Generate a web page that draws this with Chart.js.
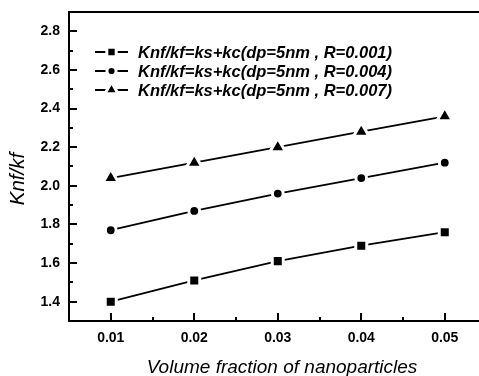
<!DOCTYPE html>
<html>
<head>
<meta charset="utf-8">
<script src="https://cdn.jsdelivr.net/npm/chart.js@4.4.0/dist/chart.umd.min.js"></script>
<style>
    html, body { margin: 0; padding: 0; background: #fff; overflow: hidden; }
    #kChart { display: block; }
</style>
</head>
<body>
<canvas id="kChart" width="479" height="376"></canvas>
<script>
const fractions = [0.01, 0.02, 0.03, 0.04, 0.05];
const seriesR001 = [1.40, 1.51, 1.61, 1.69, 1.76];
const seriesR004 = [1.77, 1.87, 1.96, 2.04, 2.12];
const seriesR007 = [2.04, 2.12, 2.20, 2.28, 2.36];
const seriesLabels = [
    'Knf/kf=ks+kc(dp=5nm , R=0.001)',
    'Knf/kf=ks+kc(dp=5nm , R=0.004)',
    'Knf/kf=ks+kc(dp=5nm , R=0.007)'
];
const xTicks = [0.01, 0.02, 0.03, 0.04, 0.05];
const yTicks = [1.4, 1.6, 1.8, 2.0, 2.2, 2.4, 2.6, 2.8];
const xTitle = 'Volume fraction of nanoparticles';
const yTitle = 'Knf/kf';

const markers = [
    { style: 'rect', radius: 7.8 },
    { style: 'circle', radius: 5.4 },
    { style: 'triangle', radius: 9 }
];

function toPoints(values) {
    return values.map((v, i) => ({ x: fractions[i], y: v }));
}

function makeDataset(label, values, marker) {
    return {
        label: label,
        data: toPoints(values),
        borderColor: '#000',
        borderWidth: 1.8,
        pointStyle: marker.style,
        pointRadius: marker.radius,
        pointBackgroundColor: '#000',
        pointBorderColor: '#fff',
        pointBorderWidth: 3,
        tension: 0
    };
}

// fixed axis boxes, no extra room reserved for edge labels
function fixBox(scale, size) {
    if (scale.isHorizontal()) {
        scale.height = size;
    } else {
        scale.width = size;
    }
    scale.paddingTop = 0;
    scale.paddingBottom = 0;
    scale.paddingLeft = 0;
    scale.paddingRight = 0;
}

// frame (the right side runs off the picture), inward ticks, titles, legend
const decorations = {
    id: 'decorations',
    afterDraw(chart) {
        const ctx = chart.ctx;
        const area = chart.chartArea;
        const xs = chart.scales.x;
        const ys = chart.scales.y;

        ctx.save();
        ctx.strokeStyle = '#000';
        ctx.lineWidth = 2;
        ctx.beginPath();
        ctx.moveTo(chart.width, area.top);
        ctx.lineTo(area.left, area.top);
        ctx.lineTo(area.left, area.bottom);
        ctx.lineTo(chart.width, area.bottom);
        ctx.stroke();

        ctx.beginPath();
        xTicks.forEach(v => {
            const px = Math.round(xs.getPixelForValue(v));
            ctx.moveTo(px, area.bottom);
            ctx.lineTo(px, area.bottom - 8);
            const mx = Math.round(xs.getPixelForValue(v + 0.005));
            ctx.moveTo(mx, area.bottom);
            ctx.lineTo(mx, area.bottom - 4);
        });
        yTicks.forEach(v => {
            const py = Math.round(ys.getPixelForValue(v));
            ctx.moveTo(area.left, py);
            ctx.lineTo(area.left + 8, py);
            const my = Math.round(ys.getPixelForValue(v + 0.1));
            ctx.moveTo(area.left, my);
            ctx.lineTo(area.left + 4, my);
        });
        ctx.stroke();

        // axis titles
        ctx.fillStyle = '#000';
        ctx.textAlign = 'center';
        ctx.textBaseline = 'middle';
        ctx.font = 'italic 19px "Liberation Sans", Arial, sans-serif';
        ctx.fillText(xTitle, 282, 368);
        ctx.save();
        ctx.translate(18, 179);
        ctx.rotate(-Math.PI / 2);
        ctx.font = 'italic 20.5px "Liberation Sans", Arial, sans-serif';
        ctx.fillText(yTitle, 0, 0);
        ctx.restore();

        // legend
        const rows = [52, 71, 90];
        ctx.textAlign = 'left';
        ctx.font = 'bold italic 16.5px "Liberation Sans", Arial, sans-serif';
        chart.data.datasets.forEach((ds, i) => {
            const y = rows[i];
            ctx.strokeStyle = '#000';
            ctx.lineWidth = 2;
            ctx.beginPath();
            ctx.moveTo(95, y);
            ctx.lineTo(128, y);
            ctx.stroke();
            ctx.fillStyle = '#000';
            ctx.strokeStyle = '#fff';
            ctx.lineWidth = 3;
            Chart.helpers.drawPoint(ctx, {
                pointStyle: ds.pointStyle,
                radius: ds.pointRadius * 0.85,
                rotation: 0,
                borderWidth: 3
            }, 111.5, y);
            ctx.fillStyle = '#000';
            ctx.fillText(ds.label, 138, y + 1);
        });
        ctx.restore();
    }
};

function createChart() {
    const ctx = document.getElementById('kChart').getContext('2d');
    return new Chart(ctx, {
        type: 'line',
        data: {
            datasets: [
                makeDataset(seriesLabels[0], seriesR001, markers[0]),
                makeDataset(seriesLabels[1], seriesR004, markers[1]),
                makeDataset(seriesLabels[2], seriesR007, markers[2])
            ]
        },
        options: {
            responsive: false,
            animation: false,
            layout: { autoPadding: false, padding: { top: 12, right: 0, left: 0, bottom: 0 } },
            plugins: {
                legend: { display: false },
                tooltip: { enabled: false }
            },
            scales: {
                x: {
                    type: 'linear',
                    min: 0.005,
                    max: 0.0541,
                    afterFit: scale => fixBox(scale, 55),
                    afterBuildTicks: scale => { scale.ticks = xTicks.map(v => ({ value: v })); },
                    grid: { display: false, drawTicks: false },
                    border: { display: false },
                    ticks: {
                        padding: 9,
                        color: '#000',
                        font: { family: '"Liberation Sans", Arial, sans-serif', size: 14, weight: 'bold' },
                        callback: v => v.toFixed(2)
                    }
                },
                y: {
                    min: 1.3,
                    max: 2.9,
                    afterFit: scale => fixBox(scale, 69),
                    afterBuildTicks: scale => { scale.ticks = yTicks.map(v => ({ value: v })); },
                    grid: { display: false, drawTicks: false },
                    border: { display: false },
                    ticks: {
                        padding: 9,
                        color: '#000',
                        font: { family: '"Liberation Sans", Arial, sans-serif', size: 14, weight: 'bold' },
                        callback: v => v.toFixed(1)
                    }
                }
            }
        },
        plugins: [decorations]
    });
}

document.addEventListener('DOMContentLoaded', createChart);
</script>
</body>
</html>
